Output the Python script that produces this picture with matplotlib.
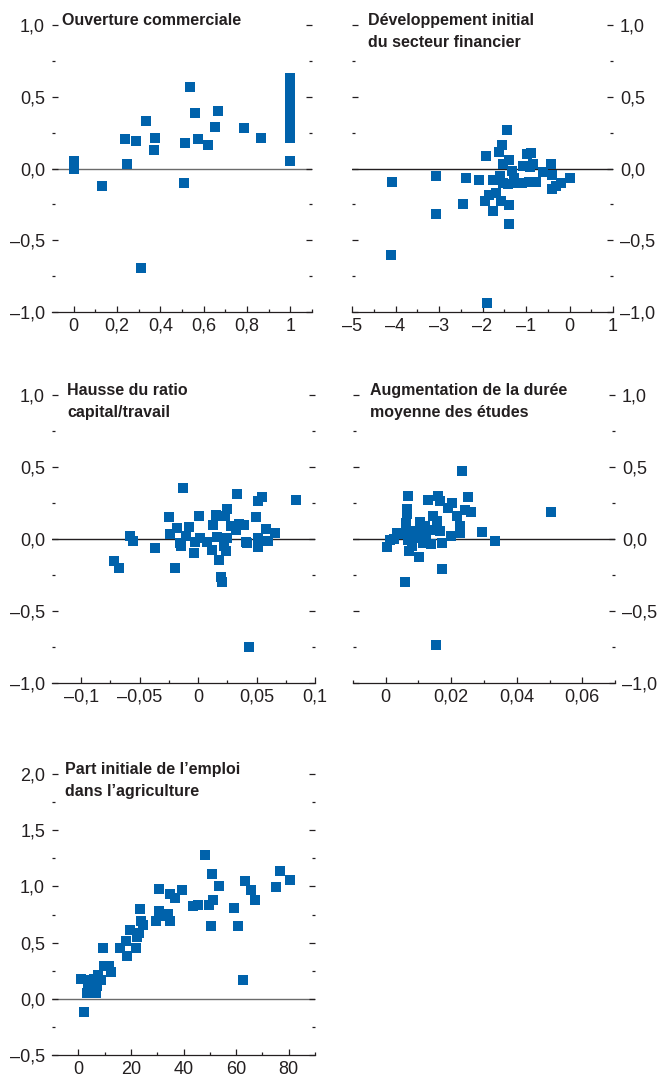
import numpy as np
import matplotlib
matplotlib.use("Agg")
import matplotlib.pyplot as plt
from matplotlib.ticker import FixedLocator, FixedFormatter, NullFormatter

W, H = 660, 1077
BLUE = "#0062ab"
INK = "#231f20"

plt.rcParams["font.family"] = ["Liberation Sans", "DejaVu Sans"]

# --- data --------------------------------------------------------------------
ouv_x = [0.0, 0.0, 0.13, 0.236, 0.248, 0.287, 0.333, 0.374, 0.37, 0.31,
         0.535, 0.514, 0.511, 0.558, 0.572, 0.621, 0.650, 0.664, 0.784, 0.865,
         1.0, 1.0, 1.0, 1.0, 1.0, 1.0, 1.0, 1.0, 1.0, 1.0, 1.0, 1.0, 1.0]
ouv_y = [0.05, 0.0, -0.12, 0.205, 0.03, 0.193, 0.328, 0.216, 0.126, -0.69,
         0.565, 0.177, -0.098, 0.386, 0.205, 0.163, 0.286, 0.398, 0.279, 0.212,
         0.049, 0.21, 0.25, 0.29, 0.33, 0.37, 0.41, 0.45, 0.49, 0.53, 0.57, 0.61, 0.63]

fin_x = [-4.08, -4.1, -3.06, -3.06, -2.39, -2.44, -2.07, -1.9, -1.91, -1.95,
         -1.85, -1.77, -1.75, -1.68, -1.63, -1.56, -1.58, -1.6, -1.52, -1.44,
         -1.39, -1.39, -1.38, -1.41, -1.33, -1.22, -1.06, -1.1, -0.98, -0.88,
         -0.91, -0.92, -0.84, -0.78, -0.6, -0.43, -0.41, -0.41, -0.32, -0.2,
         0.0, -1.52, -1.28]
fin_y = [-0.093, -0.60, -0.051, -0.314, -0.065, -0.244, -0.081, -0.937, 0.084, -0.228,
         -0.188, -0.293, -0.081, -0.17, 0.116, 0.163, -0.223, -0.053, 0.028, 0.267,
         -0.256, -0.386, 0.06, -0.107, -0.019, -0.1, 0.016, -0.1, 0.102, 0.107,
         0.012, -0.095, 0.028, -0.095, -0.023, 0.028, -0.042, -0.14, -0.123, -0.1,
         -0.065, -0.1, -0.065]

kl_x = [-0.0716, -0.0676, -0.058, -0.056, -0.0367, -0.0246, -0.0238, -0.0195, -0.018, -0.0158,
        -0.0146, -0.0129, -0.0103, -0.0077, -0.0034, -0.0029, 0.0009, 0.002, 0.0077, 0.0123,
        0.0129, 0.0155, 0.0163, 0.0175, 0.0192, 0.020, 0.0206, 0.0221, 0.0235, 0.0244,
        0.0226, 0.0244, 0.0278, 0.0321, 0.0335, 0.035, 0.0393, 0.0407, 0.0421, 0.0438,
        0.0499, 0.0516, 0.055, 0.0516, 0.0516, 0.0579, 0.0602, 0.0656, 0.0837]
kl_y = [-0.15, -0.201, 0.023, -0.016, -0.0625, 0.15, 0.037, -0.201, 0.076, -0.028,
        -0.046, 0.352, 0.023, 0.081, -0.097, -0.019, 0.157, 0.005, -0.019, -0.076,
        0.097, 0.167, 0.012, -0.144, 0.162, -0.266, -0.301, -0.046, -0.081, 0.208,
        0.162, 0.005, 0.093, 0.065, 0.31, 0.102, 0.097, -0.023, -0.03, -0.752,
        0.15, 0.266, 0.294, 0.007, -0.058, 0.069, -0.016, 0.042, 0.273]

edu_x = [0.0005, 0.0012, 0.0025, 0.0033, 0.0046, 0.0058, 0.0065, 0.0068, 0.0065, 0.0063,
         0.0065, 0.0068, 0.0071, 0.0081, 0.0092, 0.0102, 0.0106, 0.0109, 0.0114, 0.012,
         0.0124, 0.0129, 0.0137, 0.0145, 0.0153, 0.0155, 0.016, 0.0165, 0.0167, 0.0172,
         0.0173, 0.019, 0.0201, 0.0198, 0.0219, 0.0226, 0.0226, 0.0232, 0.0241, 0.025,
         0.0259, 0.0295, 0.0333, 0.0506, 0.0135, 0.0088]
edu_y = [-0.058, -0.009, 0.002, 0.042, 0.037, -0.299, 0.208, 0.301, 0.176, 0.111,
         0.042, -0.009, -0.086, -0.051, 0.053, -0.127, 0.116, 0.042, -0.028, 0.088,
         0.007, 0.269, -0.032, 0.162, -0.734, 0.123, 0.296, 0.262, 0.053, -0.208,
         -0.028, 0.215, 0.25, 0.019, 0.157, 0.088, 0.042, 0.475, 0.199, 0.292,
         0.185, 0.046, -0.012, 0.185, 0.065, 0.007]

agr_x = [1.0, 2.3, 3.6, 3.2, 4.2, 5.2, 5.9, 6.7, 7.0, 7.6,
         8.7, 9.5, 9.9, 11.5, 12.5, 15.9, 18.2, 18.7, 19.8, 21.8,
         22.4, 23.0, 23.5, 23.9, 24.6, 29.4, 30.5, 30.7, 31.5, 34.1,
         34.7, 34.7, 36.9, 39.6, 43.6, 45.5, 48.1, 49.7, 50.3, 51.0,
         51.3, 53.4, 59.2, 60.9, 62.7, 63.4, 65.5, 67.2, 75.1, 76.7, 80.5]
agr_y = [0.175, -0.113, 0.11, 0.05, 0.17, 0.125, 0.175, 0.056, 0.11, 0.214,
         0.17, 0.451, 0.294, 0.294, 0.234, 0.451, 0.516, 0.377, 0.608, 0.451,
         0.546, 0.585, 0.801, 0.688, 0.659, 0.688, 0.979, 0.777, 0.733, 0.757,
         0.688, 0.935, 0.896, 0.964, 0.828, 0.831, 1.282, 0.831, 0.65, 1.113,
         0.881, 1.0, 0.807, 0.644, 0.163, 1.045, 0.97, 0.881, 0.991, 1.139, 1.059]

titles = [["Ouverture commerciale"],
          ["Développement initial", "du secteur financier"],
          ["Hausse du ratio", "capital/travail"],
          ["Augmentation de la durée", "moyenne des études"],
          ["Part initiale de l\u2019emploi", "dans l\u2019agriculture"]]

y_lab = ["\u20131,0", "\u20130,5", "0,0", "0,5", "1,0"]
y5_lab = ["\u20130,5", "0,0", "0,5", "1,0", "1,5", "2,0"]

# rect in px (left, top, right, bottom); tdx = title offset from left edge in px
panels = [
    dict(rect=(52, 25, 312, 312), xlim=(-0.1, 1.1),
         xmaj=[0, 0.2, 0.4, 0.6, 0.8, 1.0], xlab=["0", "0,2", "0,4", "0,6", "0,8", "1"],
         xmin=[0.1, 0.3, 0.5, 0.7, 0.9, 1.1], side="left", tdx=10, zc="#6b6b6b",
         x=ouv_x, y=ouv_y),
    dict(rect=(352, 25, 613, 312), xlim=(-5, 1),
         xmaj=[-5, -4, -3, -2, -1, 0, 1],
         xlab=["\u20135", "\u20134", "\u20133", "\u20132", "\u20131", "0", "1"],
         xmin=[-4.5, -3.5, -2.5, -1.5, -0.5, 0.5], side="right", tdx=16, zc=INK,
         x=fin_x, y=fin_y),
    dict(rect=(52, 395, 315, 683), xlim=(-0.125, 0.1),
         xmaj=[-0.1, -0.05, 0, 0.05, 0.1],
         xlab=["\u20130,1", "\u20130,05", "0", "0,05", "0,1"],
         xmin=[-0.075, -0.025, 0.025, 0.075], side="left", tdx=15, zc=INK,
         x=kl_x, y=kl_y),
    dict(rect=(353, 395, 615, 683), xlim=(-0.01, 0.07),
         xmaj=[0, 0.02, 0.04, 0.06], xlab=["0", "0,02", "0,04", "0,06"],
         xmin=[-0.01, 0.01, 0.03, 0.05, 0.07], side="right", tdx=17, zc=INK,
         x=edu_x, y=edu_y),
    dict(rect=(52, 774, 315, 1055), xlim=(-10, 90),
         xmaj=[0, 20, 40, 60, 80], xlab=["0", "20", "40", "60", "80"],
         xmin=[10, 30, 50, 70, 90], side="left", tdx=13, zc="#6b6b6b",
         x=agr_x, y=agr_y),
]

fig = plt.figure(figsize=(W / 100, H / 100), dpi=100)

for i, p in enumerate(panels):
    l, t, r, b = p["rect"]
    ax = fig.add_axes([l / W, 1 - b / H, (r - l) / W, (b - t) / H])
    ax.set_xlim(*p["xlim"])
    if i == 4:
        ax.set_ylim(-0.5, 2.0)
        ymaj = [-0.5, 0, 0.5, 1.0, 1.5, 2.0]
        ylab = y5_lab
        ymin = [-0.25, 0.25, 0.75, 1.25, 1.75]
    else:
        ax.set_ylim(-1.0, 1.0)
        ymaj = [-1.0, -0.5, 0, 0.5, 1.0]
        ylab = y_lab
        ymin = [-0.75, -0.25, 0.25, 0.75]

    for s in ("left", "right", "top"):
        ax.spines[s].set_visible(False)
    ax.spines["bottom"].set_color(INK)
    ax.spines["bottom"].set_linewidth(0.9)

    ax.axhline(0, color=p["zc"], lw=1.0, zorder=1)
    ax.scatter(p["x"], p["y"], marker="s", s=52, color=BLUE, linewidths=0,
               zorder=3, clip_on=False)

    ax.xaxis.set_major_locator(FixedLocator(p["xmaj"]))
    ax.xaxis.set_major_formatter(FixedFormatter(p["xlab"]))
    ax.xaxis.set_minor_locator(FixedLocator(p["xmin"]))
    ax.xaxis.set_minor_formatter(NullFormatter())
    ax.yaxis.set_major_locator(FixedLocator(ymaj))
    ax.yaxis.set_major_formatter(FixedFormatter(ylab))
    ax.yaxis.set_minor_locator(FixedLocator(ymin))
    ax.yaxis.set_minor_formatter(NullFormatter())

    left_lab = p["side"] == "left"
    ax.tick_params(axis="x", which="major", direction="in", length=4, width=0.9,
                   color=INK, labelsize=13, labelcolor=INK, pad=4)
    ax.tick_params(axis="x", which="minor", direction="in", length=2.2, width=0.9,
                   color=INK)
    ax.tick_params(axis="y", which="both", direction="in", left=True, right=True,
                   labelleft=left_lab, labelright=not left_lab, color=INK, width=0.9)
    ax.tick_params(axis="y", which="major", length=4, labelsize=13, labelcolor=INK,
                   pad=5)
    ax.tick_params(axis="y", which="minor", length=2.2)

    # title lines, first baseline on the top edge, 22 px between baselines
    for k, line in enumerate(titles[i]):
        ax.annotate(line, xy=(0, 1), xycoords="axes fraction",
                    xytext=(p["tdx"] * 0.72, -22 * 0.72 * k), textcoords="offset points",
                    ha="left", va="baseline", fontsize=11.5, fontweight="bold",
                    color=INK)

fig.savefig("out.png", dpi=100)
